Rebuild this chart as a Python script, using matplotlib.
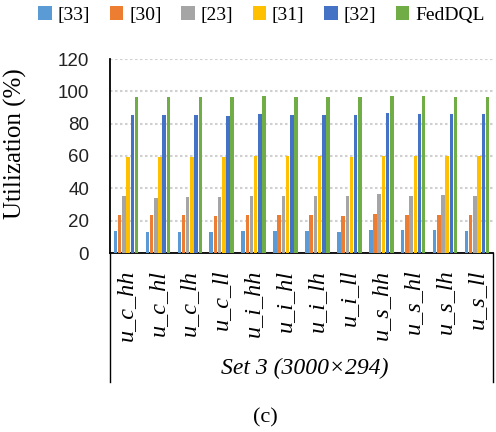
import numpy as np
import matplotlib.pyplot as plt
from matplotlib.patches import Patch
from matplotlib.lines import Line2D

# data
categories = ["u_c_hh", "u_c_hl", "u_c_lh", "u_c_ll", "u_i_hh", "u_i_hl",
              "u_i_lh", "u_i_ll", "u_s_hh", "u_s_hl", "u_s_lh", "u_s_ll"]
methods = ["[33]", "[30]", "[23]", "[31]", "[32]", "FedDQL"]

ref33 = [13.5, 13.0, 13.0, 12.8, 13.8, 13.5, 13.6, 13.2, 14.0, 14.0, 14.0, 13.5]
ref30 = [23.3, 23.3, 23.3, 23.0, 23.8, 23.5, 23.5, 23.0, 24.0, 23.5, 23.8, 23.5]
ref23 = [35.0, 34.3, 34.8, 34.5, 35.5, 35.5, 35.3, 35.3, 36.3, 35.5, 35.8, 35.5]
ref31 = [59.5, 59.5, 59.5, 59.5, 60.2, 59.8, 60.0, 59.5, 60.0, 60.0, 60.0, 60.0]
ref32 = [85.5, 85.3, 85.3, 85.0, 86.0, 85.5, 85.6, 85.2, 86.3, 86.2, 86.2, 86.2]
feddql = [96.5, 96.5, 96.5, 96.3, 97.0, 96.8, 96.7, 96.3, 97.3, 97.0, 96.8, 96.5]

series = [ref33, ref30, ref23, ref31, ref32, feddql]
colors = ["#5B9BD5", "#ED7D31", "#A5A5A5", "#FFC000", "#4472C4", "#70AD47"]

serif = "Liberation Serif"
sans = "Liberation Sans"

fig = plt.figure(figsize=(4.96, 4.32), dpi=100)
ax = fig.add_axes([110 / 496, 1 - 253 / 432, 383 / 496, 194 / 432])

x = np.arange(len(categories))
slot = 0.132
width = 0.11
for i, (vals, col) in enumerate(zip(series, colors)):
    ax.bar(x + (i - 2.5) * slot, vals, width, color=col, zorder=3)

ax.set_xlim(-0.5, len(categories) - 0.5)
ax.set_ylim(0, 120)
ax.set_yticks(np.arange(0, 121, 20))
ax.yaxis.grid(True, linestyle=(0, (1.2, 1.2)), color="#d0d0d0", linewidth=1.5, zorder=0)

for s in ["top", "right"]:
    ax.spines[s].set_visible(False)
ax.spines["left"].set_linewidth(1.3)
ax.spines["bottom"].set_linewidth(1.3)

ax.tick_params(axis="y", length=0, pad=15, labelsize=13.5, labelcolor="#222222")
for lab in ax.get_yticklabels():
    lab.set_fontfamily(sans)
ax.set_xticks(x)
ax.set_xticklabels(categories, rotation=90, fontsize=17.5, fontstyle="italic",
                   fontfamily=serif, va="top", ha="center")
ax.tick_params(axis="x", length=0, pad=12)

ax.set_ylabel("Utilization (%)", fontsize=18, fontfamily=serif)
ax.yaxis.set_label_coords(-0.217, 0.564)

# box lines of the category area
bot = (253 - 382) / 194
for xx in [0, 1]:
    ax.add_line(Line2D([xx, xx], [0, bot], transform=ax.transAxes,
                       color="black", linewidth=1.0, clip_on=False))

ax.text(0.509, -0.593, "Set 3 (3000\u00d7294)", transform=ax.transAxes,
        fontsize=17, fontstyle="italic", fontfamily=serif, ha="center", va="center")

fig.text(265 / 496, 1 - 418 / 432, "(c)", fontsize=16, fontfamily=serif,
         ha="center", va="center")

handles = [Patch(facecolor=c, label=m) for c, m in zip(colors, methods)]
fig.legend(handles=handles, loc="center", bbox_to_anchor=(0.527, 1 - 15 / 432),
           ncol=6, frameon=False, prop={"family": serif, "size": 14},
           handlelength=0.7, handleheight=0.7, handletextpad=0.3,
           columnspacing=1.0, borderaxespad=0)

fig.savefig("out.png", dpi=100)
